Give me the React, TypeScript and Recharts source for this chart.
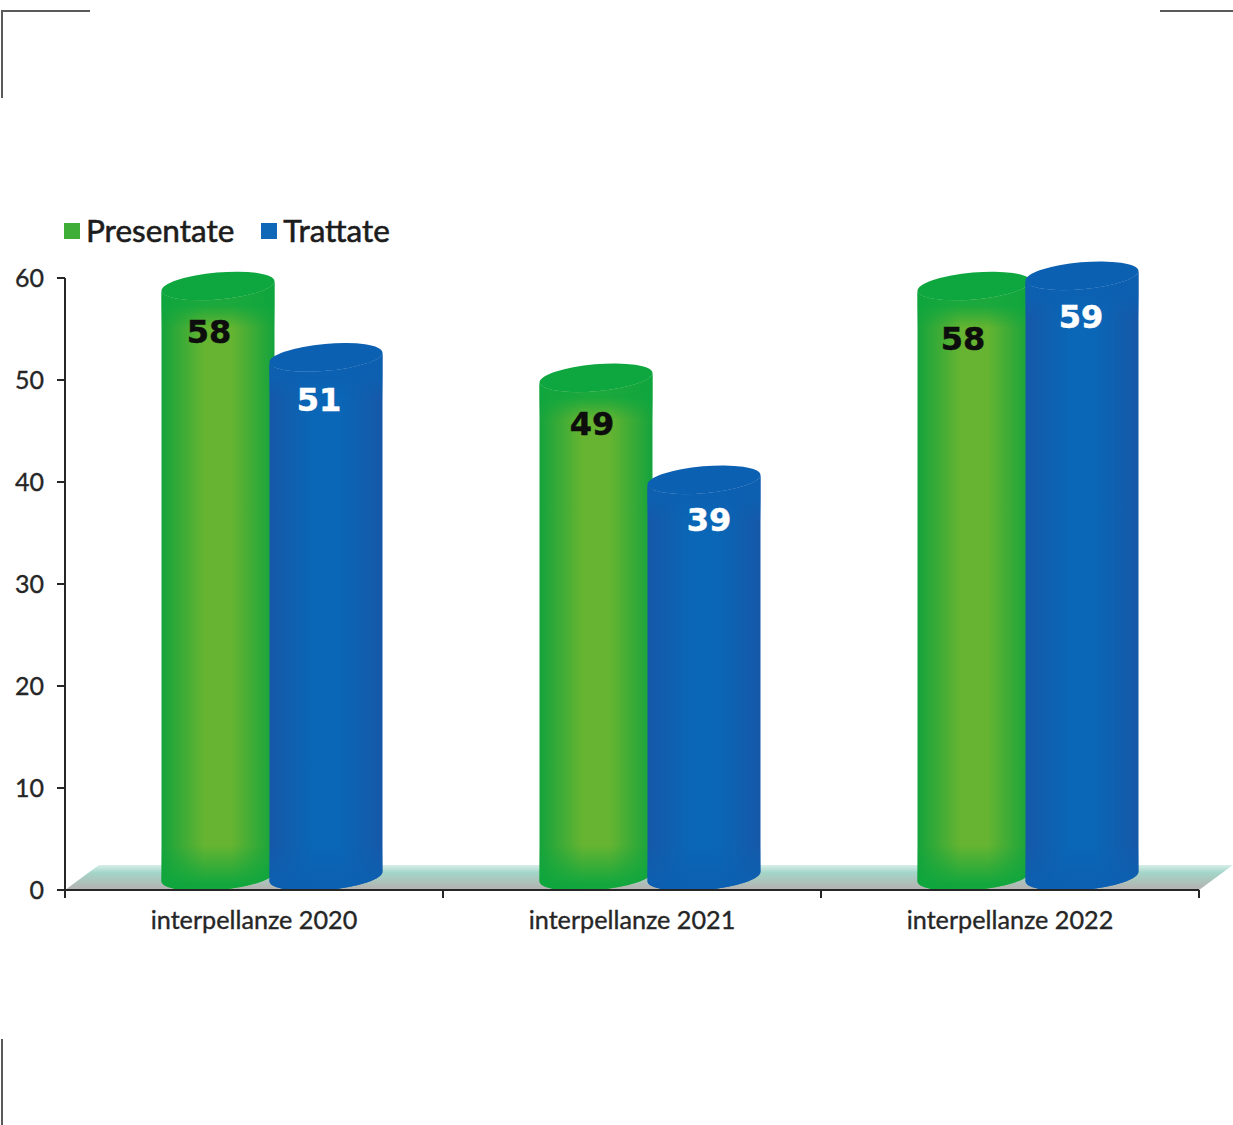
import { Bar, BarChart, LabelList, Legend, ReferenceArea, XAxis, YAxis } from "recharts"

const categories = ["interpellanze 2020", "interpellanze 2021", "interpellanze 2022"]
const presentate = [58, 49, 58]
const trattate = [51, 39, 59]
const valueTicks = [0, 10, 20, 30, 40, 50, 60]

const data = categories.map((name, i) => ({ name, presentate: presentate[i], trattate: trattate[i] }))

// hand placement of the value labels inside each cylinder, [dx, dy] from the top centre
const presentateNudge = [[-9, 36], [-4, 36], [-11, 43]]
const trattateNudge = [[-7, 32], [5, 30], [-1, 31]]

const FONT = "Lato, sans-serif"
const INK = "#262626"
const SHIFT = 17.5 // cylinders sit right of the band centre
const BAND = 378

function Cylinder(props: any) {
  const { x, y, width, height, tone } = props
  const left = x + SHIFT
  const right = left + width
  const tilt = 10
  const rx = Math.hypot(width / 2, tilt / 2)
  const ry = 13.5
  const rot = (-Math.atan(tilt / width) * 180) / Math.PI
  const top = y - 12.4
  const base = y + height - 13.5
  const arc = (x1: number, y1: number, sweep: number) => `A ${rx} ${ry} ${rot} 0 ${sweep} ${x1} ${y1}`

  const section = (a: number, b: number) =>
    `M ${left} ${a + tilt / 2} L ${left} ${b + tilt / 2} ${arc(right, b - tilt / 2, 0)} L ${right} ${a - tilt / 2} ${arc(left, a + tilt / 2, 1)} Z`

  return (
    <g>
      <path d={section(top, base)} fill={`url(#${tone}Side)`} />
      <path d={section(base - 46, base)} fill={`url(#${tone}Foot)`} />
      <path d={section(top, top + 46)} fill={`url(#${tone}Neck)`} />
      <ellipse cx={left + width / 2} cy={top} rx={rx} ry={ry} transform={`rotate(${rot} ${left + width / 2} ${top})`} fill={`url(#${tone}Cap)`} />
    </g>
  )
}

function Floor(props: any) {
  const { x, y, width, height } = props
  const bottom = y + height
  return <polygon points={`${x},${bottom} ${x + 34},${y} ${x + width + 34},${y} ${x + width},${bottom}`} fill="url(#floorFill)" />
}

function CategoryTick(props: any) {
  const { x, y, payload, index } = props
  return (
    <g>
      <line x1={x - BAND / 2} x2={x - BAND / 2} y1={890} y2={898} stroke={INK} strokeWidth={2} />
      {index === categories.length - 1 && <line x1={x + BAND / 2} x2={x + BAND / 2} y1={890} y2={898} stroke={INK} strokeWidth={2} />}
      <text x={x} y={y + 31} textAnchor="middle" fontFamily={FONT} fontSize={25.2} fill={INK} stroke={INK} strokeWidth={0.35}>
        {payload.value}
      </text>
    </g>
  )
}

const valueLabel = (nudge: number[][], fill: string) => (props: any) => {
  const { x, y, width, value, index } = props
  const [dx, dy] = nudge[index]
  return (
    <text
      x={x + SHIFT + width / 2 + dx}
      y={y + dy}
      textAnchor="middle"
      dominantBaseline="middle"
      fontFamily="'DejaVu Sans', sans-serif"
      fontWeight={700}
      fontSize={32}
      fill={fill}
      stroke={fill}
      strokeWidth={0.5}
    >
      {value}
    </text>
  )
}

function LegendRow({ payload }: any) {
  return (
    <div style={{ display: "flex", alignItems: "center" }}>
      {(payload ?? []).map((entry: any) => (
        <div key={entry.value} style={{ display: "flex", alignItems: "center", marginRight: 27 }}>
          <span style={{ width: 16, height: 16, background: entry.color, marginRight: 6, marginTop: 2 }} />
          <span style={{ fontFamily: FONT, fontSize: 31.5, color: "#1c1c1c", lineHeight: "34px", WebkitTextStroke: "0.6px #1c1c1c" }}>{entry.value}</span>
        </div>
      ))}
    </div>
  )
}

function Gradients({ id, edge, mid, cap }: { id: string; edge: string; mid: string; cap: string }) {
  return (
    <>
      <linearGradient id={`${id}Side`} x1="0" x2="1" y1="0" y2="0">
        <stop offset="0" stopColor={edge} />
        <stop offset="0.38" stopColor={mid} />
        <stop offset="0.62" stopColor={mid} />
        <stop offset="1" stopColor={edge} />
      </linearGradient>
      <linearGradient id={`${id}Foot`} x1="0" x2="0" y1="0" y2="1">
        <stop offset="0.3" stopColor={cap} stopOpacity="0" />
        <stop offset="0.9" stopColor={cap} stopOpacity="0.95" />
      </linearGradient>
      <linearGradient id={`${id}Neck`} x1="0" x2="0" y1="0" y2="1">
        <stop offset="0.38" stopColor={cap} stopOpacity="0.85" />
        <stop offset="0.72" stopColor={cap} stopOpacity="0" />
      </linearGradient>
      <linearGradient id={`${id}Cap`} x1="0" x2="1" y1="0" y2="0">
        <stop offset="0" stopColor={cap} />
        <stop offset="1" stopColor={cap} />
      </linearGradient>
    </>
  )
}

const cropMark = (style: React.CSSProperties) => <div style={{ position: "absolute", background: "#5a5a5a", ...style }} />

export default function App() {
  return (
    <div style={{ position: "absolute", left: 0, top: 0, width: 1233, height: 1125, background: "#ffffff" }}>
      {cropMark({ left: 2, top: 10, width: 88, height: 1.5 })}
      {cropMark({ left: 1, top: 10, width: 1.5, height: 88 })}
      {cropMark({ left: 1160, top: 10, width: 73, height: 1.5 })}
      {cropMark({ left: 1, top: 1039, width: 1.5, height: 86 })}
      <BarChart
        width={1233}
        height={1125}
        data={data}
        margin={{ top: 278, right: 34, bottom: 0, left: 0 }}
        barSize={113}
        barGap={-5}
        style={{ position: "absolute", left: 0, top: 0 }}
      >
        <defs>
          <Gradients id="green" edge="#14a33c" mid="#66b431" cap="#0ea63e" />
          <Gradients id="blue" edge="#1658a8" mid="#0a66b6" cap="#0c60b1" />
          <linearGradient id="floorFill" x1="0" x2="0" y1="0" y2="1">
            <stop offset="0" stopColor="#d8eee8" />
            <stop offset="0.3" stopColor="#a4d6c9" />
            <stop offset="0.9" stopColor="#b2b5b2" />
          </linearGradient>
        </defs>
        <ReferenceArea y1={0} y2={2.45} ifOverflow="visible" shape={<Floor />} />
        <XAxis dataKey="name" height={235} tick={<CategoryTick />} tickLine={false} axisLine={{ stroke: INK, strokeWidth: 2 }} interval={0} />
        <YAxis
          width={65}
          domain={[0, 60]}
          ticks={valueTicks}
          tickSize={8}
          tickMargin={13}
          tick={{ fontFamily: FONT, fontSize: 25, fill: INK, stroke: INK, strokeWidth: 0.35 }}
          tickLine={{ stroke: INK, strokeWidth: 2 }}
          axisLine={{ stroke: INK, strokeWidth: 2 }}
        />
        <Legend
          layout="vertical"
          align="center"
          verticalAlign="middle"
          content={<LegendRow />}
          wrapperStyle={{ left: 64, top: 213, width: 500, height: 34 }}
        />
        <Bar dataKey="presentate" name="Presentate" fill="#3fae38" shape={<Cylinder tone="green" />} isAnimationActive={false}>
          <LabelList dataKey="presentate" content={valueLabel(presentateNudge, "#0d0d0d")} />
        </Bar>
        <Bar dataKey="trattate" name="Trattate" fill="#0f67b8" shape={<Cylinder tone="blue" />} isAnimationActive={false}>
          <LabelList dataKey="trattate" content={valueLabel(trattateNudge, "#ffffff")} />
        </Bar>
      </BarChart>
    </div>
  )
}
